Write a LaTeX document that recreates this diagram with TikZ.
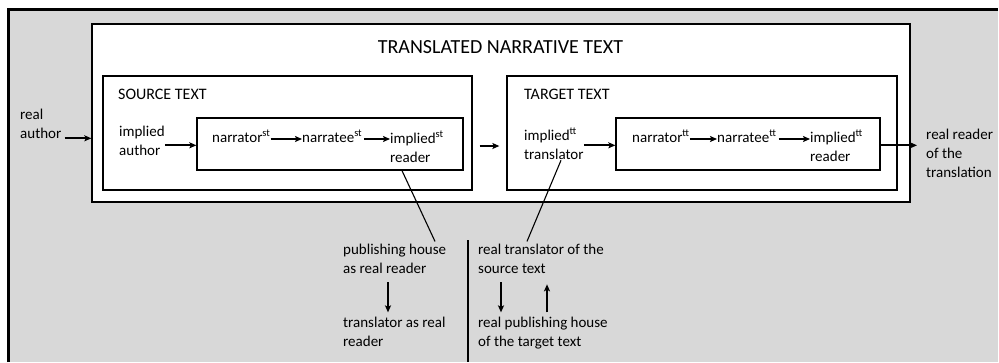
\documentclass[tikz,border=0pt]{standalone}
\usepackage{fontspec}
\setmainfont{Carlito}
\usetikzlibrary{arrows.meta,calc}
\definecolor{bggray}{RGB}{216,216,216}
\begin{document}
\begin{tikzpicture}[x=1pt,y=-1pt,
  txt/.style={inner sep=0pt, anchor=base west, align=left, font=\fontsize{15}{19}\selectfont},
  captxt/.style={txt, font=\fontsize{16}{19}\selectfont},
  box/.style={draw=black, line width=1.3pt, fill=white, inner sep=0pt},
  arr/.style={line width=1.7pt, -{Stealth[length=7pt,width=6pt,inset=1.5pt]}},
  ln/.style={line width=1.1pt}]
\useasboundingbox (0,0) rectangle (999,362);
\fill[bggray] (8,9) rectangle (998,362);
\draw[line width=3pt] (8,362) -- (8,9) -- (998,9);
% boxes
\node[box, minimum width=818pt, minimum height=178pt] (outer) at (501,113) {};
\node[box, minimum width=369pt, minimum height=114pt] (src) at (287.5,133) {};
\node[box, minimum width=266pt, minimum height=52pt] (srcin) at (330,144) {};
\node[box, minimum width=390pt, minimum height=114pt] (tgt) at (702,133) {};
\node[box, minimum width=264pt, minimum height=52pt] (tgtin) at (748,144) {};
% texts
\node[txt, anchor=base, font=\fontsize{20}{24}\selectfont] (title) at (500.5,53) {TRANSLATED NARRATIVE TEXT};
\node[captxt] (srclab) at (118,99) {SOURCE TEXT};
\node[captxt] (tgtlab) at (524,99) {TARGET TEXT};
\node[txt] (realauthor) at (20,138) {real\\author};
\node[txt] (impauth) at (119,155) {implied\\author};
\node[txt] (n1) at (212,142) {narrator\textsuperscript{st}};
\node[txt] (n2) at (302,142) {narratee\textsuperscript{st}};
\node[txt] (n3) at (390,162) {implied\textsuperscript{st}\\reader};
\node[txt] (imptr) at (524,159) {implied\textsuperscript{tt}\\translator};
\node[txt] (m1) at (632,142) {narrator\textsuperscript{tt}};
\node[txt] (m2) at (717,142) {narratee\textsuperscript{tt}};
\node[txt] (m3) at (810,161) {implied\textsuperscript{tt}\\reader};
\node[txt] (realreader) at (926,177) {real reader\\of the\\translation};
\node[txt] (pub) at (343,273) {publishing house\\as real reader};
\node[txt] (trr) at (343,346) {translator as real\\reader};
\node[txt] (rts) at (478,273) {real translator of the\\source text};
\node[txt] (rph) at (478,346) {real publishing house\\of the target text};
% arrows
\draw[arr] ([xshift=3pt]realauthor.south east) -- (outer.west |- realauthor.south east);
\coordinate (ia) at ([yshift=10pt]impauth.south east);
\draw[arr] (ia) -- (ia -| srcin.west);
\coordinate (n1e) at ([yshift=3pt]n1.base east);
\draw[arr] (n1e) -- (n1e -| n2.west);
\coordinate (n2e) at ([yshift=3pt,xshift=2pt]n2.base east);
\draw[arr] (n2e) -- (n2e -| n3.west);
\coordinate (mid) at (0,146);
\draw[arr, shorten <=7pt, shorten >=7pt] (src.east |- mid) -- (tgt.west |- mid);
\coordinate (ta) at ([yshift=14pt]imptr.south east);
\draw[arr] (ta) -- (ta -| tgtin.west);
\coordinate (m1e) at ([yshift=3pt]m1.base east);
\draw[arr] (m1e) -- (m1e -| m2.west);
\coordinate (m2e) at ([yshift=3pt,xshift=2pt]m2.base east);
\draw[arr] (m2e) -- (m2e -| m3.west);
\coordinate (rr) at ([xshift=-9pt]realreader.west);
\draw[arr] (tgtin.east |- ta) -- (rr |- ta);
% slanted lines
\coordinate (s1) at ([xshift=72pt]srcin.south);
\coordinate (p1) at ([xshift=92pt,yshift=2pt]pub.north west);
\draw[ln] (s1) -- (p1);
\coordinate (t1) at ([xshift=37pt,yshift=-1pt]imptr.south west);
\coordinate (q1) at ([xshift=49pt,yshift=2pt]rts.north west);
\draw[ln] (t1) -- (q1);
% lower arrows
\draw[arr] ([xshift=45pt,yshift=-9pt]pub.south west) -- ([xshift=45pt,yshift=4pt]trr.north west);
\draw[arr] ([xshift=23pt,yshift=-9pt]rts.south west) -- ([xshift=23pt,yshift=4pt]rph.north west);
\draw[arr] ([xshift=69pt,yshift=4pt]rph.north west) -- ([xshift=69pt,yshift=-11pt]rts.south west);
% divider
\coordinate (dtop) at (468,240);
\coordinate (dbot) at (468,362);
\draw[line width=1.1pt] (dtop) -- (dbot);
\end{tikzpicture}
\end{document}
